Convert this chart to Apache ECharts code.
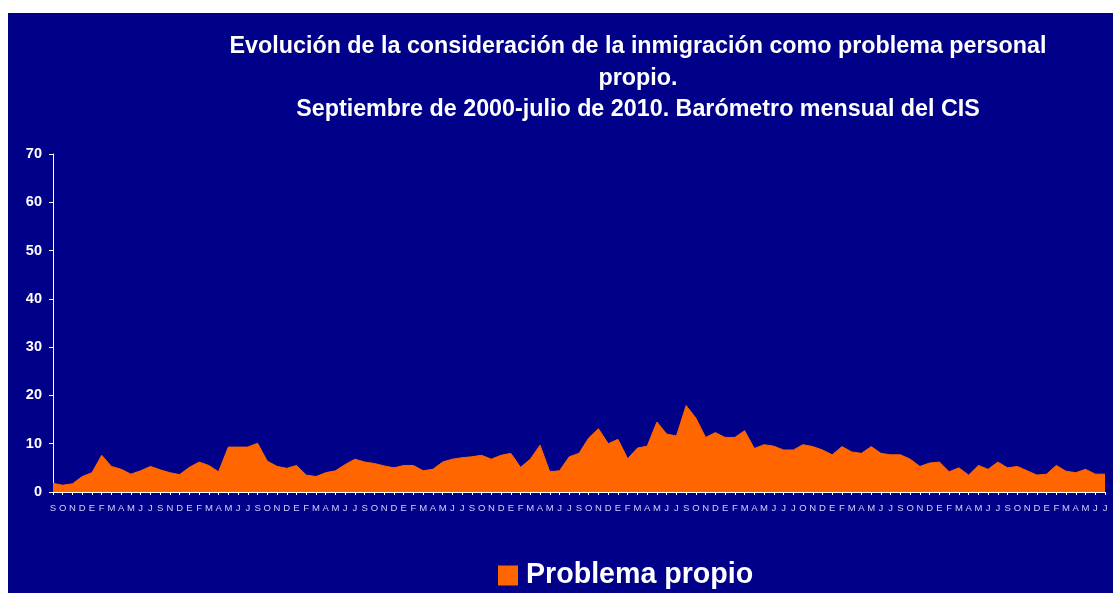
<!DOCTYPE html>
<html>
<head>
<meta charset="utf-8">
<script src="https://cdn.jsdelivr.net/npm/echarts@6/dist/echarts.min.js"></script>
<style>
html,body{margin:0;padding:0;background:#ffffff;width:1113px;height:593px;overflow:hidden;}
#c{position:absolute;left:8px;top:13px;width:1105px;height:580px;}
</style>
</head>
<body>
<div id="c"></div>
<script>
// Month initials as shown on the axis (Sept 2000 - July 2010, CIS monthly barometer)
const months = [
  'S','O','N','D','E','F','M','A','M','J','J',
  'S','N','D','E','F','M','A','M','J','J',
  'S','O','N','D','E','F','M','A','M','J','J',
  'S','O','N','D','E','F','M','A','M','J','J',
  'S','O','N','D','E','F','M','A','M','J','J',
  'S','O','N','D','E','F','M','A','M','J','J',
  'S','O','N','D','E','F','M','A','M','J','J',
  'J','O','N','D','E','F','M','A','M','J','J',
  'S','O','N','D','E','F','M','A','M','J','J',
  'S','O','N','D','E','F','M','A','M','J','J'
];
const problemaPropio = [
  1.8,1.4,1.7,3.2,4.0,7.6,5.3,4.7,3.7,4.4,5.3,
  4.6,4.0,3.6,5.1,6.2,5.5,4.2,9.3,9.3,9.3,
  10.1,6.4,5.3,4.9,5.5,3.5,3.2,4.0,4.4,5.7,6.8,
  6.2,5.9,5.4,5.0,5.5,5.5,4.4,4.7,6.2,6.8,7.1,
  7.3,7.6,6.8,7.6,8.0,5.1,6.8,9.7,4.2,4.4,7.3,
  8.0,11.2,13.1,10.0,10.9,6.9,9.1,9.5,14.5,12.0,11.6,
  17.9,15.3,11.3,12.3,11.3,11.3,12.7,9.0,9.8,9.5,8.7,
  8.7,9.8,9.4,8.7,7.7,9.4,8.3,8.0,9.4,8.0,7.7,
  7.7,6.8,5.3,6.0,6.2,4.2,5.0,3.5,5.5,4.7,6.2,
  5.0,5.3,4.4,3.5,3.7,5.5,4.3,4.0,4.7,3.7,3.7
];
const seriesName = 'Problema propio';
const titleLines = [
  'Evolución de la consideración de la inmigración como problema personal',
  'propio.',
  'Septiembre de 2000-julio de 2010. Barómetro mensual del CIS'
];
const yTicks = {min: 0, max: 70, interval: 10};

const chart = echarts.init(document.getElementById('c'), null, {renderer: 'canvas'});
const FONT = '"Liberation Sans", Arial, sans-serif';
chart.setOption({
  backgroundColor: '#000088',
  animation: false,
  graphic: [{
    type: 'text',
    x: 630,
    y: 18,
    style: {
      text: titleLines.join('\n'),
      fill: '#ffffff',
      font: 'bold 23.3px ' + FONT,
      textAlign: 'center',
      lineHeight: 31.5
    }
  }],
  legend: {
    data: [seriesName],
    left: 490,
    top: 548,
    padding: 0,
    icon: 'rect',
    itemWidth: 20,
    itemHeight: 20,
    itemGap: 10,
    textStyle: {color: '#ffffff', fontSize: 28.6, fontWeight: 'bold', fontFamily: FONT, padding: [0, 0, 0, 3]}
  },
  grid: {left: 45, right: 8, top: 141, bottom: 101, containLabel: false},
  xAxis: {
    type: 'category',
    data: months,
    boundaryGap: false,
    axisLine: {show: true, lineStyle: {color: '#ffffff', width: 1}},
    axisTick: {show: true, interval: 0, length: 3, lineStyle: {color: '#ffffff'}},
    axisLabel: {interval: 0, color: '#d0d0ff', fontSize: 9.5, fontFamily: FONT, margin: 11},
    splitLine: {show: false}
  },
  yAxis: {
    type: 'value',
    min: yTicks.min,
    max: yTicks.max,
    interval: yTicks.interval,
    axisLine: {show: true, lineStyle: {color: '#ffffff', width: 1}},
    axisTick: {show: true, length: 4, lineStyle: {color: '#ffffff'}},
    axisLabel: {color: '#ffffff', fontSize: 14.5, fontWeight: 'bold', fontFamily: FONT, margin: 11},
    splitLine: {show: false}
  },
  series: [{
    name: seriesName,
    type: 'line',
    data: problemaPropio,
    symbol: 'none',
    color: '#ff6600',
    lineStyle: {color: '#ff6600', width: 1},
    areaStyle: {color: '#ff6600', opacity: 1}
  }]
});
</script>
</body>
</html>
